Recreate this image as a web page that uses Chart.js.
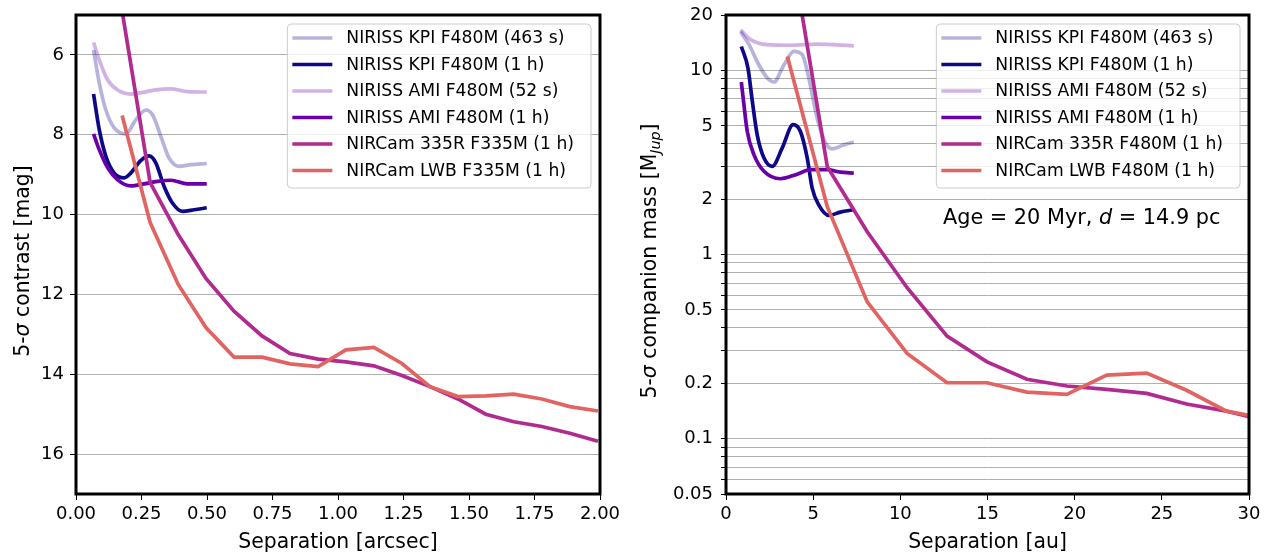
<!DOCTYPE html>
<html>
<head>
<meta charset="utf-8">
<script src="https://cdn.jsdelivr.net/npm/chart.js@4.4.0/dist/chart.umd.min.js"></script>
<style>
  html, body { margin: 0; padding: 0; background: #fff; }
  .panel { position: absolute; top: 0; height: 552px; }
  #left { left: 0; width: 620px; }
  #right { left: 630px; width: 638px; }
</style>
</head>
<body>
<div class="panel" id="left"><canvas id="contrastChart"></canvas></div>
<div class="panel" id="right"><canvas id="massChart"></canvas></div>
<script>
const FONT = "'DejaVu Sans', sans-serif";

const contrastNames = [
  "NIRISS KPI F480M (463 s)",
  "NIRISS KPI F480M (1 h)",
  "NIRISS AMI F480M (52 s)",
  "NIRISS AMI F480M (1 h)",
  "NIRCam 335R F335M (1 h)",
  "NIRCam LWB F335M (1 h)",
];
const massNames = [
  "NIRISS KPI F480M (463 s)",
  "NIRISS KPI F480M (1 h)",
  "NIRISS AMI F480M (52 s)",
  "NIRISS AMI F480M (1 h)",
  "NIRCam 335R F480M (1 h)",
  "NIRCam LWB F480M (1 h)",
];
const seriesColors = [
  "rgba(13,8,135,0.3)",
  "#0d0887",
  "rgba(106,0,168,0.3)",
  "#6a00a8",
  "#b12a90",
  "#e16462",
];

// left panel: separation [arcsec] vs 5-sigma contrast [mag]
const kpi463Sep = [0.067, 0.089, 0.114, 0.146, 0.19, 0.228, 0.267, 0.292, 0.324, 0.355, 0.393, 0.438, 0.499];
const kpi463Mag = [5.88, 6.71, 7.38, 7.83, 7.98, 7.63, 7.38, 7.5, 8.04, 8.58, 8.79, 8.75, 8.72];
const kpi1hSep = [0.067, 0.089, 0.114, 0.146, 0.184, 0.209, 0.248, 0.279, 0.305, 0.336, 0.368, 0.406, 0.451, 0.499];
const kpi1hMag = [6.98, 7.88, 8.54, 8.96, 9.08, 8.96, 8.64, 8.53, 8.71, 9.29, 9.71, 9.92, 9.88, 9.83];
const ami52Sep = [0.067, 0.089, 0.121, 0.159, 0.209, 0.254, 0.298, 0.362, 0.425, 0.499];
const ami52Mag = [5.69, 6.13, 6.63, 6.88, 6.98, 6.94, 6.88, 6.85, 6.92, 6.93];
const ami1hSep = [0.067, 0.089, 0.121, 0.159, 0.209, 0.26, 0.311, 0.362, 0.425, 0.499];
const ami1hMag = [7.98, 8.38, 8.83, 9.13, 9.28, 9.23, 9.17, 9.14, 9.23, 9.23];
const nircamSep = [0.176, 0.283, 0.39, 0.496, 0.603, 0.71, 0.817, 0.924, 1.03, 1.137, 1.244, 1.351, 1.458, 1.564, 1.671, 1.778, 1.885, 1.992];
const r335Mag = [4.9, 9.2, 10.5, 11.6, 12.42, 13.04, 13.48, 13.62, 13.69, 13.79, 14.03, 14.31, 14.62, 15.0, 15.19, 15.31, 15.48, 15.68];
const lwbMag = [7.52, 10.2, 11.75, 12.83, 13.57, 13.57, 13.74, 13.81, 13.39, 13.33, 13.73, 14.31, 14.56, 14.54, 14.5, 14.62, 14.81, 14.92];

// right panel: separation [au] vs 5-sigma companion mass [M_Jup]
const kpi463Au = [0.84, 1.32, 1.89, 2.37, 2.75, 3.32, 3.89, 4.37, 4.75, 5.23, 5.71, 6.09, 6.75, 7.33];
const kpi463Mass = [16.2, 13.8, 10.7, 9.1, 8.65, 10.7, 12.7, 12.2, 9.1, 5.5, 4.03, 3.75, 3.94, 4.08];
const kpi1hAu = [0.88, 1.26, 1.51, 1.79, 2.18, 2.65, 3.22, 3.85, 4.27, 4.66, 4.94, 5.32, 5.9, 6.56, 7.33];
const kpi1hMass = [13.5, 10.3, 6.8, 4.47, 3.34, 3.01, 3.78, 5.07, 4.66, 3.34, 2.3, 1.86, 1.63, 1.7, 1.75];
const ami52Au = [0.84, 1.41, 2.37, 3.7, 5.23, 6.18, 7.33];
const ami52Mass = [16.6, 14.7, 13.8, 13.7, 13.9, 13.8, 13.6];
const ami1hAu = [0.88, 1.03, 1.22, 1.6, 2.18, 3.13, 4.08, 4.85, 5.8, 6.56, 7.33];
const ami1hMass = [8.65, 6.5, 4.66, 3.49, 2.83, 2.58, 2.73, 2.89, 2.89, 2.8, 2.77];
const nircamAu = [3.52, 5.81, 8.1, 10.39, 12.68, 14.97, 17.26, 19.55, 21.84, 24.13, 26.42, 28.71, 31.0];
const r335Mass = [61, 3.0, 1.33, 0.66, 0.36, 0.261, 0.21, 0.193, 0.185, 0.176, 0.154, 0.141, 0.125];
const lwbMass = [11.9, 1.82, 0.553, 0.29, 0.201, 0.201, 0.179, 0.174, 0.221, 0.227, 0.183, 0.141, 0.128];

const contrastTicks = [6, 8, 10, 12, 14, 16];
const massTicks = [0.05, 0.06, 0.07, 0.08, 0.09, 0.1, 0.2, 0.3, 0.4, 0.5, 0.6, 0.7, 0.8, 0.9, 1, 2, 3, 4, 5, 6, 7, 8, 9, 10, 20];
const massTickLabels = [0.05, 0.1, 0.2, 0.5, 1, 2, 5, 10, 20];

function makeSets(xs, ys) {
  return xs.map((xv, i) => ({
    data: xv.map((x, j) => ({ x: x, y: ys[i][j] })),
    borderColor: seriesColors[i],
    borderWidth: 3.7,
    pointRadius: 0,
    fill: false,
    cubicInterpolationMode: i < 4 ? "monotone" : "default",
    tension: 0,
    order: 5 - i,
    clip: 0,
  }));
}

function drawRuns(ctx, runs, cx, cy, rotate) {
  ctx.save();
  ctx.translate(cx, cy);
  if (rotate) ctx.rotate(-Math.PI / 2);
  const fontOf = (r) => `${r.italic ? "italic " : ""}${r.size}px ${FONT}`;
  let total = 0;
  const widths = runs.map((r) => {
    ctx.font = fontOf(r);
    const w = ctx.measureText(r.text).width;
    total += w;
    return w;
  });
  let x = -total / 2;
  ctx.fillStyle = "#000";
  ctx.textBaseline = "alphabetic";
  ctx.textAlign = "left";
  runs.forEach((r, i) => {
    ctx.font = fontOf(r);
    ctx.fillText(r.text, x, r.dy || 0);
    x += widths[i];
  });
  ctx.restore();
}

function drawLegend(ctx, area, names) {
  ctx.save();
  ctx.font = `17.2px ${FONT}`;
  const textW = Math.max(...names.map((n) => ctx.measureText(n).width));
  const w = 5 + 40 + 14 + textW + 17;
  const h = 164;
  const right = area.right - 9;
  const left = right - w;
  const top = area.top + 9;
  const r = 4;
  ctx.beginPath();
  ctx.moveTo(left + r, top);
  ctx.lineTo(left + w - r, top);
  ctx.arcTo(left + w, top, left + w, top + r, r);
  ctx.lineTo(left + w, top + h - r);
  ctx.arcTo(left + w, top + h, left + w - r, top + h, r);
  ctx.lineTo(left + r, top + h);
  ctx.arcTo(left, top + h, left, top + h - r, r);
  ctx.lineTo(left, top + r);
  ctx.arcTo(left, top, left + r, top, r);
  ctx.closePath();
  ctx.fillStyle = "rgba(255,255,255,0.8)";
  ctx.fill();
  ctx.strokeStyle = "#cccccc";
  ctx.lineWidth = 1;
  ctx.stroke();
  names.forEach((n, i) => {
    const y = top + 14 + i * 26.5;
    ctx.beginPath();
    ctx.strokeStyle = seriesColors[i];
    ctx.lineWidth = 3.7;
    ctx.moveTo(left + 5, y);
    ctx.lineTo(left + 45, y);
    ctx.stroke();
    ctx.fillStyle = "#000";
    ctx.textBaseline = "middle";
    ctx.textAlign = "left";
    ctx.fillText(n, left + 59, y + 1);
  });
  ctx.restore();
}

function decorPlugin(cfg) {
  return {
    id: "decor",
    afterDraw(chart) {
      const ctx = chart.ctx;
      const a = chart.chartArea;
      ctx.save();
      ctx.strokeStyle = "#000";
      ctx.lineWidth = 3;
      ctx.strokeRect(a.left, a.top, a.right - a.left, a.bottom - a.top);
      ctx.restore();
      drawLegend(ctx, a, cfg.names);
      drawRuns(ctx, cfg.xTitle, (a.left + a.right) / 2, 548, false);
      drawRuns(ctx, cfg.yTitle, cfg.yTitleX, cfg.yTitleY, true);
      if (cfg.extra) cfg.extra(ctx, a);
    },
  };
}

const tickFont = { family: FONT, size: 18 };

function fixWidth(w) {
  return (scale) => {
    scale.width = w;
    scale.paddingTop = 0;
    scale.paddingBottom = 0;
  };
}
function fixHeight(h) {
  return (scale) => {
    scale.height = h;
    scale.paddingLeft = 0;
    scale.paddingRight = 0;
  };
}

const contrastChart = new Chart(document.getElementById("contrastChart"), {
  type: "line",
  data: {
    datasets: makeSets(
      [kpi463Sep, kpi1hSep, ami52Sep, ami1hSep, nircamSep, nircamSep],
      [kpi463Mag, kpi1hMag, ami52Mag, ami1hMag, r335Mag, lwbMag]
    ),
  },
  options: {
    responsive: true,
    maintainAspectRatio: false,
    animation: false,
    layout: { padding: { left: 0, top: 15, right: 20, bottom: 0 } },
    plugins: { legend: { display: false }, tooltip: { enabled: false } },
    scales: {
      x: {
        type: "linear",
        min: 0,
        max: 2,
        afterFit: fixHeight(58),
        border: { display: false },
        grid: { drawOnChartArea: false, tickLength: 6, tickColor: "#000" },
        ticks: {
          stepSize: 0.25,
          font: tickFont,
          color: "#000",
          padding: 4,
          maxRotation: 0,
          callback: (v) => Number(v).toFixed(2),
        },
      },
      y: {
        type: "linear",
        min: 5,
        max: 17,
        reverse: true,
        afterFit: fixWidth(76),
        afterBuildTicks: (scale) => {
          scale.ticks = contrastTicks.map((v) => ({ value: v }));
        },
        border: { display: false },
        grid: { color: "#b0b0b0", lineWidth: 1, tickLength: 6, tickColor: "#000" },
        ticks: { font: tickFont, color: "#000", padding: 6 },
      },
    },
  },
  plugins: [
    decorPlugin({
      names: contrastNames,
      xTitle: [{ text: "Separation [arcsec]", size: 20.4 }],
      yTitle: [
        { text: "5-", size: 20.4 },
        { text: "σ", size: 20.4, italic: true },
        { text: " contrast [mag]", size: 20.4 },
      ],
      yTitleX: 29,
      yTitleY: 261,
    }),
  ],
});

const massChart = new Chart(document.getElementById("massChart"), {
  type: "line",
  data: {
    datasets: makeSets(
      [kpi463Au, kpi1hAu, ami52Au, ami1hAu, nircamAu, nircamAu],
      [kpi463Mass, kpi1hMass, ami52Mass, ami1hMass, r335Mass, lwbMass]
    ),
  },
  options: {
    responsive: true,
    maintainAspectRatio: false,
    animation: false,
    layout: { padding: { left: 0, top: 15, right: 19, bottom: 0 } },
    plugins: { legend: { display: false }, tooltip: { enabled: false } },
    scales: {
      x: {
        type: "linear",
        min: 0,
        max: 30,
        afterFit: fixHeight(58),
        border: { display: false },
        grid: { drawOnChartArea: false, tickLength: 6, tickColor: "#000" },
        ticks: { stepSize: 5, font: tickFont, color: "#000", padding: 4, maxRotation: 0 },
      },
      y: {
        type: "logarithmic",
        min: 0.05,
        max: 20,
        afterFit: fixWidth(96),
        afterBuildTicks: (scale) => {
          scale.ticks = massTicks.map((v) => ({ value: v }));
        },
        border: { display: false },
        grid: { color: "#b0b0b0", lineWidth: 1, tickLength: 5, tickColor: "#000" },
        ticks: {
          font: tickFont,
          color: "#000",
          padding: 8,
          autoSkip: false,
          callback: (v) => (massTickLabels.includes(v) ? String(v) : ""),
        },
      },
    },
  },
  plugins: [
    decorPlugin({
      names: massNames,
      xTitle: [{ text: "Separation [au]", size: 20.4 }],
      yTitle: [
        { text: "5-", size: 20.4 },
        { text: "σ", size: 20.4, italic: true },
        { text: " companion mass [M", size: 20.4 },
        { text: "Jup", size: 14.3, italic: true, dy: 4 },
        { text: "]", size: 20.4 },
      ],
      yTitleX: 26,
      yTitleY: 261,
      extra: (ctx, a) => {
        ctx.save();
        ctx.fillStyle = "#000";
        ctx.textBaseline = "alphabetic";
        ctx.textAlign = "left";
        let x = a.left + 217;
        const y = 224;
        const parts = [
          ["Age = 20 Myr, ", ""],
          ["d", "italic "],
          [" = 14.9 pc", ""],
        ];
        parts.forEach(([t, style]) => {
          ctx.font = `${style}20.8px ${FONT}`;
          ctx.fillText(t, x, y);
          x += ctx.measureText(t).width;
        });
        ctx.restore();
      },
    }),
  ],
});
</script>
</body>
</html>
